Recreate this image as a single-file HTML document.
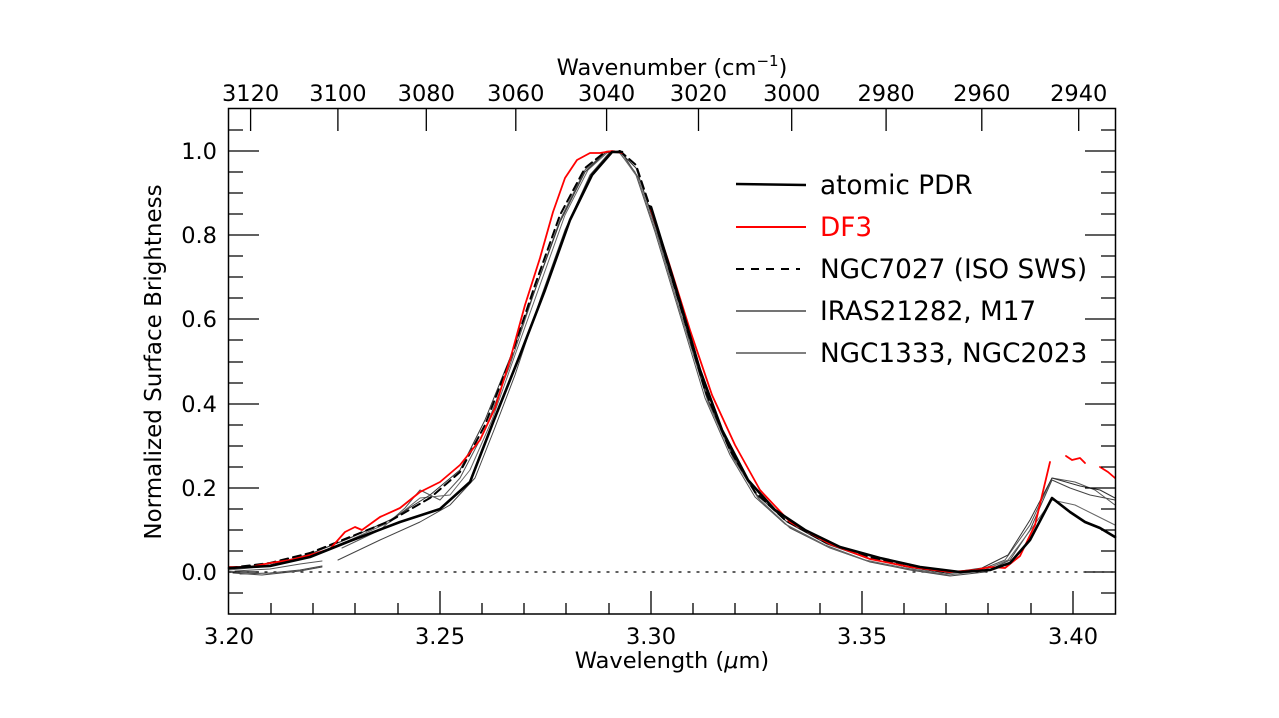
<!DOCTYPE html>
<html><head><meta charset="utf-8"><style>
html,body{margin:0;padding:0;background:#fff}
svg{display:block}
text{font-family:"DejaVu Sans","Liberation Sans",sans-serif;fill:#000}
</style></head><body>
<svg width="1279" height="718" viewBox="0 0 1279 718" xmlns="http://www.w3.org/2000/svg">
<rect x="0" y="0" width="1279" height="718" fill="#fff"/>
<g fill="none" stroke-linejoin="round" stroke-linecap="round">
<line x1="229" y1="572" x2="1115" y2="572" stroke="#000" stroke-width="1.3" stroke-dasharray="2,7"/>
<polyline stroke="#444" stroke-width="1" points="240,574 270,573 300,570 322,566"/>
<polyline stroke="#444" stroke-width="1" points="233,573 262,575 300,571 322,567"/>
<polyline stroke="#555" stroke-width="1" points="235,571 270,569 300,564 322,561"/>
<polyline stroke="#444" stroke-width="1" points="338,560 380,540 420,522 450,505 475,478 494,430 515,375 540,300 565,230 590,175 610,152 622,153 640,180 660,240 685,320 710,405 735,460 760,500 790,528 830,548 870,562 910,570 950,576 985,572 1010,560 1030,530 1052,480 1070,488 1090,495 1115,500"/>
<polyline stroke="#555" stroke-width="1" points="342,548 380,530 405,508 420,490 440,500 460,478 485,430 510,365 535,290 560,220 585,170 605,153 618,151 635,172 655,232 680,315 705,398 730,455 755,497 785,524 825,545 865,560 905,568 945,574 980,570 1005,560 1030,525 1052,478 1075,482 1095,490 1115,505"/>
<polyline stroke="#666" stroke-width="1" points="229,570 270,566 310,556 350,540 390,522 420,498 450,495 470,470 492,420 515,355 540,285 565,215 588,170 608,152 620,153 638,178 658,238 682,318 708,402 733,458 758,498 788,526 828,547 868,561 908,569 948,575 982,571 1008,560 1032,528 1052,500 1075,505 1095,515 1115,525"/>
<polyline stroke="#333" stroke-width="1" points="229,569 270,565 310,554 350,538 390,520 430,495 460,470 485,420 510,358 535,290 560,222 585,172 606,152 620,152 636,168 656,228 681,310 706,395 732,453 757,495 787,522 827,544 867,558 907,567 947,573 982,568 1008,555 1030,520 1052,478 1080,486 1100,490 1115,498"/>
<polyline stroke="#000" stroke-width="2" stroke-dasharray="8,5" points="229,568 270,563 310,553 350,537 390,521 430,498 460,472 485,425 510,360 535,285 560,215 585,168 605,152 620,151 636,165 656,225 680,305 705,390 730,450 755,492 785,520 825,542 865,556 905,566 945,572"/>
<polyline stroke="#f00" stroke-width="1.8" points="229,567 250,567 270,563 290,560 310,555 330,549 345,532 355,527 362,530 380,517 400,508 420,492 440,482 460,465 480,440 495,408 510,360 525,305 540,258 553,212 565,178 577,160 590,153 600,153 612,151 622,153"/>
<polyline stroke="#f00" stroke-width="1.8" points="651,210 668,260 690,330 712,395 735,445 760,490 790,522 830,544 870,559 910,567 950,572 975,570 990,567 1005,568 1020,556 1035,525 1050,462"/>
<polyline stroke="#f00" stroke-width="1.8" points="1066,456 1072,460 1080,458 1085,463"/>
<polyline stroke="#f00" stroke-width="1.8" points="1100,467 1108,472 1115,478"/>
<polyline stroke="#000" stroke-width="2.6" points="229,568 270,566 310,557 350,541 400,522 440,509 470,482 494,420 520,355 545,290 570,220 592,175 612,152 622,152"/>
<polyline stroke="#000" stroke-width="2.6" points="651,207 675,285 700,370 722,430 748,480 775,510 805,530 840,547 880,558 920,567 960,572 990,570 1010,563 1030,540 1052,498 1070,512 1085,522 1100,528 1115,537"/>
</g>
<rect x="228.5" y="108.5" width="887" height="505.5" fill="none" stroke="#000" stroke-width="1.5"/>
<g stroke="#000" stroke-width="1.3">
<path d="M228 572h31M228 488h31M228 404h31M228 319h31M228 235h31M228 151h31M1116 572h-31M1116 488h-31M1116 404h-31M1116 319h-31M1116 235h-31M1116 151h-31"/>
<path d="M228 593h15M228 551h15M228 530h15M228 509h15M228 467h15M228 446h15M228 425h15M228 383h15M228 362h15M228 340h15M228 298h15M228 277h15M228 256h15M228 214h15M228 193h15M228 172h15M228 130h15"/>
<path d="M1116 593h-15M1116 551h-15M1116 530h-15M1116 509h-15M1116 467h-15M1116 446h-15M1116 425h-15M1116 383h-15M1116 362h-15M1116 340h-15M1116 298h-15M1116 277h-15M1116 256h-15M1116 214h-15M1116 193h-15M1116 172h-15M1116 130h-15"/>
<path d="M440 614v-23M651 614v-23M862 614v-23M1073 614v-23"/>
<path d="M271 614v-11M313 614v-11M355 614v-11M398 614v-11M482 614v-11M524 614v-11M566 614v-11M609 614v-11M693 614v-11M735 614v-11M777 614v-11M820 614v-11M904 614v-11M946 614v-11M988 614v-11M1031 614v-11"/>
<path d="M250.6 108v23M337.9 108v23M426.3 108v23M515.8 108v23M606.6 108v23M698.5 108v23M791.7 108v23M886.1 108v23M981.8 108v23M1078.7 108v23"/>
</g>
<g font-size="22.5" text-anchor="end">
<text x="217" y="580">0.0</text><text x="217" y="496">0.2</text><text x="217" y="412">0.4</text><text x="217" y="327">0.6</text><text x="217" y="243">0.8</text><text x="217" y="159">1.0</text>
</g>
<g font-size="22.5" text-anchor="middle">
<text x="229" y="644">3.20</text><text x="440" y="644">3.25</text><text x="651" y="644">3.30</text><text x="862" y="644">3.35</text><text x="1073" y="644">3.40</text>
<text x="250.6" y="101">3120</text><text x="337.9" y="101">3100</text><text x="426.3" y="101">3080</text><text x="515.8" y="101">3060</text><text x="606.6" y="101">3040</text><text x="698.5" y="101">3020</text><text x="791.7" y="101">3000</text><text x="886.1" y="101">2980</text><text x="981.8" y="101">2960</text><text x="1078.7" y="101">2940</text>
<text x="672" y="668">Wavelength (<tspan font-style="italic">μ</tspan>m)</text>
<text x="672" y="75">Wavenumber (cm<tspan font-size="15" dy="-9">−1</tspan><tspan dy="9">)</tspan></text>
<text transform="translate(161,362) rotate(-90)" font-size="23">Normalized Surface Brightness</text>
</g>
<g stroke-width="2">
<line x1="736" y1="184" x2="806" y2="185" stroke="#000" stroke-width="2.4"/>
<line x1="736" y1="227" x2="806" y2="227" stroke="#f00"/>
<line x1="736" y1="269" x2="800" y2="269" stroke="#000" stroke-dasharray="8,7"/>
<line x1="736" y1="311" x2="806" y2="311" stroke="#222" stroke-width="1.3"/>
<line x1="736" y1="353" x2="806" y2="353" stroke="#333" stroke-width="1.3"/>
</g>
<g font-size="26.3">
<text x="820" y="194">atomic PDR</text>
<text x="820" y="236" style="fill:#f00">DF3</text>
<text x="820" y="278">NGC7027 (ISO SWS)</text>
<text x="820" y="320">IRAS21282, M17</text>
<text x="820" y="362">NGC1333, NGC2023</text>
</g>
</svg>
</body></html>
